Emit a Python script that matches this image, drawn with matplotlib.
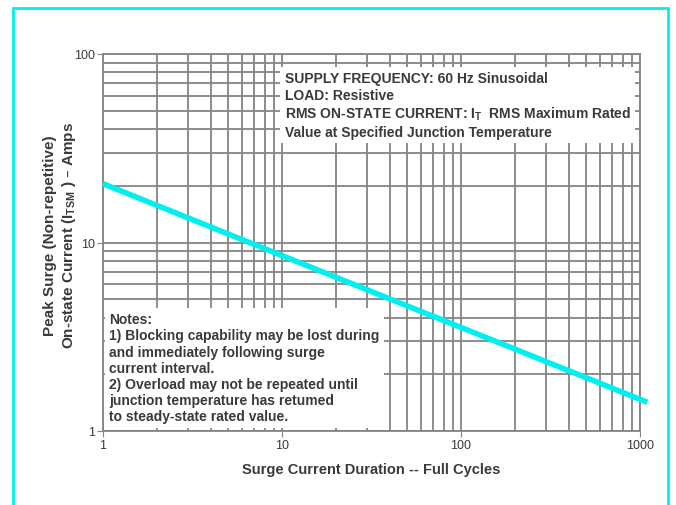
import numpy as np
import matplotlib
matplotlib.use('Agg')
import matplotlib.pyplot as plt
from matplotlib.patches import Rectangle
from matplotlib.ticker import LogLocator, NullFormatter

# surge rating curve (cycles, peak amps)
cycles = [1, 1100]
amps = [20.5, 1.42]

x_ticks = [1, 10, 100, 1000]
x_labels = ['1', '10', '100', '1000']
y_ticks = [1, 10, 100]
y_labels = ['1', '10', '100']

info_text = ("SUPPLY FREQUENCY: 60 Hz Sinusoidal\n"
             "LOAD: Resistive\n"
             "RMS ON-STATE CURRENT: I$_\\mathregular{T}$  RMS Maximum Rated\n"
             "Value at Specified Junction Temperature")
notes_text = ("Notes:\n"
              "1) Blocking capability may be lost during\n"
              "and immediately following surge\n"
              "current interval.\n"
              "2) Overload may not be repeated until\n"
              "junction temperature has retumed\n"
              "to steady-state rated value.")

plt.rcParams['font.family'] = ['Liberation Sans', 'DejaVu Sans']
txt = '#3a3a3a'
gridc = '#858585'

fig = plt.figure(figsize=(6.76, 5.06), dpi=100)
ax = fig.add_axes([103/676, 1 - 432/506, 537/676, 377/506])
ax.set_xscale('log')
ax.set_yscale('log')
ax.set_xlim(1, 1000)
ax.set_ylim(1, 100)

ax.xaxis.set_minor_locator(LogLocator(base=10, subs=np.arange(2, 10)))
ax.yaxis.set_minor_locator(LogLocator(base=10, subs=np.arange(2, 10)))
ax.xaxis.set_minor_formatter(NullFormatter())
ax.yaxis.set_minor_formatter(NullFormatter())
ax.set_xticks(x_ticks)
ax.set_xticklabels(x_labels)
ax.set_yticks(y_ticks)
ax.set_yticklabels(y_labels)
ax.grid(True, which='both', color=gridc, linewidth=1.3)
ax.tick_params(which='major', length=4, color=gridc, labelsize=9, labelcolor=txt, pad=2)
ax.tick_params(which='minor', length=0)
for s in ax.spines.values():
    s.set_color(gridc)
    s.set_linewidth(1.3)

ax.plot(cycles, amps, color='#00f0f0', linewidth=4, solid_capstyle='butt',
        clip_on=False, zorder=3)

ax.text(0.338, 0.955, info_text, transform=ax.transAxes, ha='left', va='top',
        fontsize=10, fontweight='bold', color=txt, linespacing=1.25,
        bbox=dict(facecolor='white', edgecolor='none', pad=3), zorder=4)
ax.text(0.012, 0.315, notes_text, transform=ax.transAxes, ha='left', va='top',
        fontsize=10, fontweight='bold', color=txt, linespacing=1.2,
        bbox=dict(facecolor='white', edgecolor='none', pad=3), zorder=4)

ax.set_xlabel('Surge Current Duration -- Full Cycles', fontsize=10.5,
              fontweight='bold', color=txt, labelpad=8)
ax.set_ylabel('Peak Surge (Non-repetitive)\nOn-state Current (I$_\\mathregular{TSM}$ ) \u2013 Amps',
              fontsize=11, fontweight='bold', color=txt)
ax.yaxis.set_label_coords(-0.047, 0.52)

# cyan frame around the figure
fig.patches.append(Rectangle((13/676, -0.05), 655/676, 1.05 - 9/506,
                             transform=fig.transFigure, fill=False,
                             edgecolor='#00f0f0', linewidth=2))

fig.savefig('out.png', dpi=100, facecolor='white')
